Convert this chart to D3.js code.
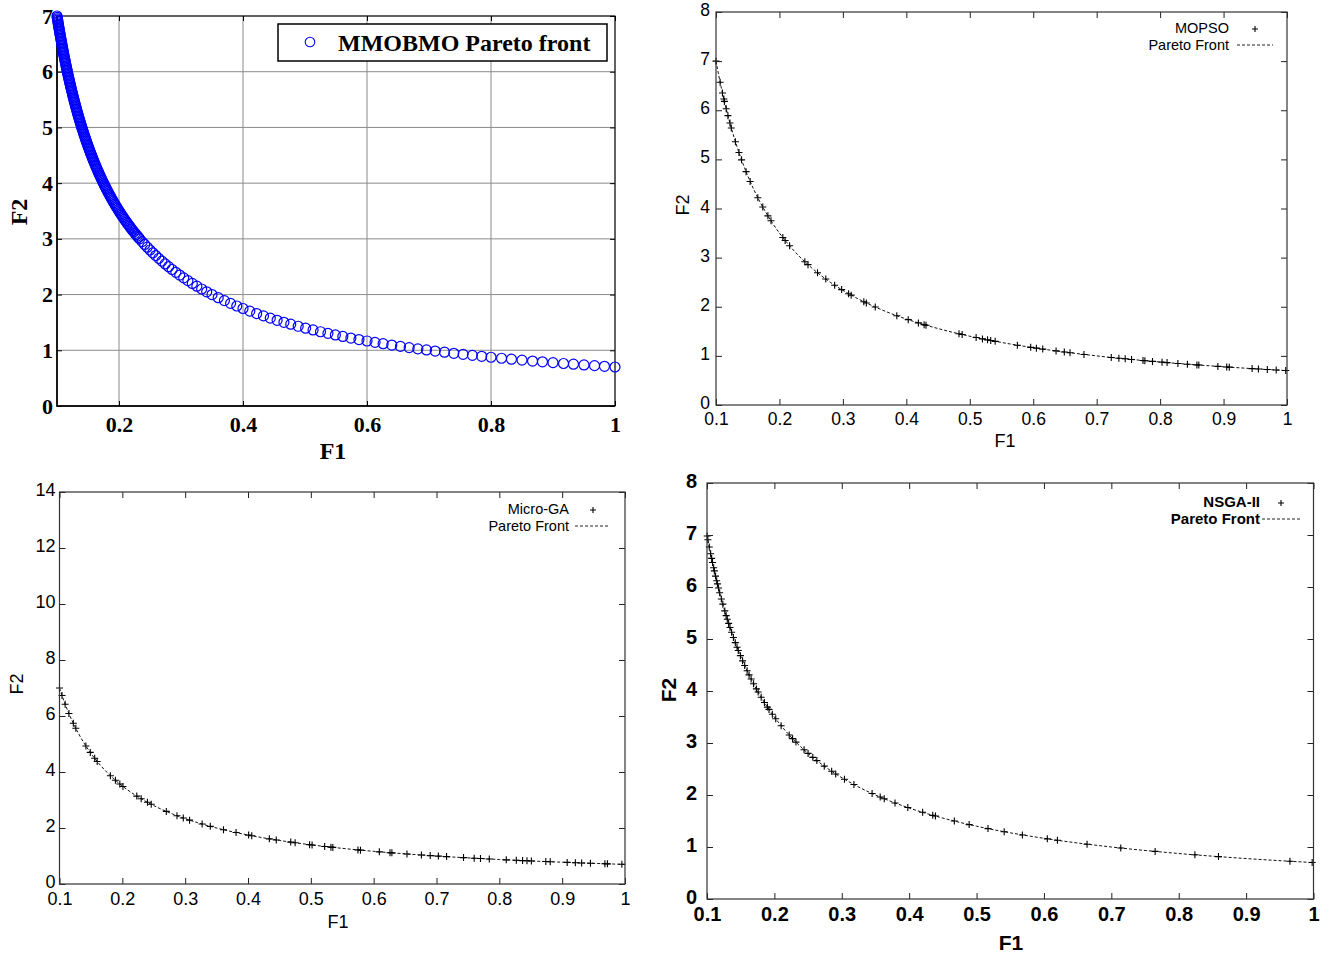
<!DOCTYPE html>
<html>
<head>
<meta charset="utf-8">
<script src="https://cdn.jsdelivr.net/npm/d3@7"></script>
<style>
  body { margin: 0; background: #fff; }
</style>
</head>
<body>
<div id="chart"></div>
<script>
// ---- data ----
var f1Ticks = [0.1, 0.2, 0.3, 0.4, 0.5, 0.6, 0.7, 0.8, 0.9, 1];
var matlabF1Ticks = [0.2, 0.4, 0.6, 0.8, 1];
var matlabF2Ticks = [0, 1, 2, 3, 4, 5, 6, 7];
var f2Ticks8 = [0, 1, 2, 3, 4, 5, 6, 7, 8];
var f2Ticks14 = [0, 2, 4, 6, 8, 10, 12, 14];

// true Pareto front (dashed line in the three gnuplot plots)
var paretoF1 = [0.1, 0.104, 0.108, 0.112, 0.116, 0.12, 0.125, 0.13, 0.14, 0.15, 0.16, 0.175, 0.19, 0.2, 0.22, 0.25, 0.28, 0.32, 0.36, 0.4, 0.45, 0.5, 0.55, 0.6, 0.7, 0.8, 0.9, 1.0];
var paretoF2 = [7.0, 6.731, 6.481, 6.25, 6.034, 5.833, 5.6, 5.385, 5.0, 4.667, 4.375, 4.0, 3.684, 3.5, 3.182, 2.8, 2.5, 2.188, 1.944, 1.75, 1.556, 1.4, 1.273, 1.167, 1.0, 0.875, 0.778, 0.7];

// MMOBMO solutions [F1, F2]
var mmobmo = [
  [0.1, 7.0], [0.10072, 6.95], [0.10145, 6.9], [0.10219, 6.85], [0.10294, 6.8], [0.1037, 6.75], [0.10448, 6.7], [0.10526, 6.65],
  [0.10606, 6.6], [0.10687, 6.55], [0.10769, 6.5], [0.10853, 6.45], [0.10938, 6.4], [0.11024, 6.35], [0.11111, 6.3], [0.112, 6.25],
  [0.1129, 6.2], [0.11382, 6.15], [0.11475, 6.1], [0.1157, 6.05], [0.11667, 6.0], [0.11765, 5.95], [0.11864, 5.9], [0.11966, 5.85],
  [0.12069, 5.8], [0.12174, 5.75], [0.12281, 5.7], [0.12389, 5.65], [0.125, 5.6], [0.12613, 5.55], [0.12727, 5.5], [0.12844, 5.45],
  [0.12963, 5.4], [0.13084, 5.35], [0.13208, 5.3], [0.13333, 5.25], [0.13462, 5.2], [0.13592, 5.15], [0.13725, 5.1], [0.13861, 5.05],
  [0.14, 5.0], [0.14141, 4.95], [0.14286, 4.9], [0.14433, 4.85], [0.14583, 4.8], [0.14737, 4.75], [0.14894, 4.7], [0.15054, 4.65],
  [0.15217, 4.6], [0.15385, 4.55], [0.15556, 4.5], [0.1573, 4.45], [0.15909, 4.4], [0.16092, 4.35], [0.16279, 4.3], [0.16471, 4.25],
  [0.16667, 4.2], [0.16867, 4.15], [0.17073, 4.1], [0.17284, 4.05], [0.175, 4.0], [0.17722, 3.95], [0.17949, 3.9], [0.18182, 3.85],
  [0.18421, 3.8], [0.18667, 3.75], [0.18919, 3.7], [0.19178, 3.65], [0.19444, 3.6], [0.19718, 3.55], [0.2, 3.5], [0.2029, 3.45],
  [0.20588, 3.4], [0.20896, 3.35], [0.21212, 3.3], [0.21538, 3.25], [0.21875, 3.2], [0.22222, 3.15], [0.22581, 3.1], [0.22951, 3.05],
  [0.23333, 3.0], [0.23729, 2.95], [0.24138, 2.9], [0.24561, 2.85], [0.25, 2.8], [0.25455, 2.75], [0.25926, 2.7], [0.26415, 2.65],
  [0.26923, 2.6], [0.27451, 2.55], [0.28, 2.5], [0.28571, 2.45], [0.29167, 2.4], [0.29787, 2.35], [0.30435, 2.3], [0.31111, 2.25],
  [0.31818, 2.2], [0.32558, 2.15], [0.33333, 2.1], [0.34146, 2.05], [0.35, 2.0], [0.36, 1.944], [0.37, 1.892], [0.38, 1.842],
  [0.39, 1.795], [0.40, 1.75], [0.411, 1.703], [0.422, 1.659], [0.433, 1.617], [0.444, 1.577], [0.455, 1.538], [0.466, 1.502],
  [0.477, 1.468], [0.489, 1.431], [0.501, 1.397], [0.513, 1.365], [0.525, 1.333], [0.537, 1.304], [0.549, 1.275], [0.561, 1.248],
  [0.574, 1.22], [0.587, 1.193], [0.6, 1.167], [0.613, 1.142], [0.626, 1.118], [0.64, 1.094], [0.654, 1.07], [0.668, 1.048],
  [0.682, 1.026], [0.696, 1.006], [0.71, 0.986], [0.725, 0.966], [0.74, 0.946], [0.755, 0.927], [0.77, 0.909], [0.785, 0.892],
  [0.8, 0.875], [0.817, 0.857], [0.833, 0.84], [0.85, 0.824], [0.867, 0.807], [0.883, 0.793], [0.9, 0.778], [0.917, 0.763],
  [0.933, 0.75], [0.95, 0.737], [0.967, 0.724], [0.983, 0.712], [1.0, 0.7]
];

// the steep part of the MMOBMO front is packed much tighter
var mmobmoDense = [
  [0.10036, 6.975], [0.10108, 6.925], [0.10182, 6.875], [0.10256, 6.825], [0.10332, 6.775], [0.10409, 6.725], [0.10487, 6.675], [0.10566, 6.625],
  [0.10646, 6.575], [0.10728, 6.525], [0.10811, 6.475], [0.10895, 6.425], [0.1098, 6.375], [0.11067, 6.325], [0.11155, 6.275], [0.11245, 6.225],
  [0.11336, 6.175], [0.11429, 6.125], [0.11523, 6.075], [0.11618, 6.025], [0.11715, 5.975], [0.11814, 5.925], [0.11915, 5.875], [0.12017, 5.825],
  [0.12121, 5.775], [0.12227, 5.725], [0.12335, 5.675], [0.12444, 5.625], [0.12556, 5.575], [0.1267, 5.525], [0.12785, 5.475], [0.12903, 5.425],
  [0.13023, 5.375], [0.13146, 5.325], [0.1327, 5.275], [0.13397, 5.225], [0.13527, 5.175], [0.13659, 5.125], [0.13793, 5.075], [0.1393, 5.025],
  [0.1407, 4.975], [0.14213, 4.925], [0.14359, 4.875], [0.14508, 4.825], [0.1466, 4.775], [0.14815, 4.725], [0.14973, 4.675], [0.15135, 4.625],
  [0.15301, 4.575], [0.1547, 4.525], [0.15642, 4.475], [0.15819, 4.425], [0.16, 4.375], [0.16185, 4.325], [0.16374, 4.275], [0.16568, 4.225],
  [0.16766, 4.175], [0.1697, 4.125], [0.17178, 4.075], [0.17391, 4.025], [0.1761, 3.975], [0.17834, 3.925], [0.18065, 3.875], [0.18301, 3.825],
  [0.18543, 3.775], [0.18792, 3.725], [0.19048, 3.675], [0.1931, 3.625], [0.1958, 3.575], [0.19858, 3.525], [0.20144, 3.475], [0.20438, 3.425],
  [0.20741, 3.375], [0.21053, 3.325], [0.21374, 3.275], [0.21705, 3.225], [0.22047, 3.175], [0.224, 3.125], [0.22764, 3.075], [0.2314, 3.025]
];

// MOPSO solutions [F1, F2]
var mopso = [
  [0.1, 7.0], [0.1065, 6.57], [0.1102, 6.35], [0.1124, 6.23], [0.1133, 6.18], [0.1161, 6.03], [0.1188, 5.89], [0.122, 5.74],
  [0.1241, 5.64], [0.1306, 5.36], [0.1362, 5.14], [0.1403, 4.99], [0.1474, 4.75], [0.1538, 4.55], [0.1659, 4.22], [0.1737, 4.03],
  [0.1818, 3.85], [0.1867, 3.75], [0.2053, 3.41], [0.209, 3.349], [0.216, 3.241], [0.24, 2.917], [0.245, 2.857], [0.26, 2.692],
  [0.273, 2.564], [0.287, 2.439], [0.298, 2.349], [0.309, 2.265], [0.313, 2.236], [0.333, 2.102], [0.337, 2.077], [0.351, 1.994],
  [0.385, 1.818], [0.403, 1.737], [0.419, 1.671], [0.428, 1.636], [0.431, 1.624], [0.483, 1.449], [0.488, 1.434], [0.51, 1.373],
  [0.52, 1.346], [0.528, 1.326], [0.533, 1.313], [0.54, 1.296], [0.575, 1.217], [0.596, 1.174], [0.605, 1.157], [0.615, 1.138],
  [0.636, 1.101], [0.649, 1.079], [0.658, 1.064], [0.68, 1.029], [0.723, 0.968], [0.735, 0.952], [0.745, 0.94], [0.755, 0.927],
  [0.773, 0.906], [0.776, 0.902], [0.788, 0.888], [0.803, 0.872], [0.811, 0.863], [0.828, 0.845], [0.843, 0.83], [0.858, 0.816],
  [0.861, 0.813], [0.891, 0.786], [0.905, 0.773], [0.909, 0.77], [0.945, 0.741], [0.955, 0.733], [0.969, 0.722], [0.983, 0.712],
  [0.998, 0.701]
];

// Micro-GA solutions [F1, F2]
var microGA = [
  [0.1, 7.0], [0.104, 6.73], [0.109, 6.42], [0.115, 6.09], [0.122, 5.74], [0.126, 5.56], [0.142, 4.93], [0.149, 4.7],
  [0.156, 4.49], [0.16, 4.375], [0.181, 3.867], [0.189, 3.704], [0.196, 3.571], [0.201, 3.483], [0.223, 3.139], [0.23, 3.043],
  [0.24, 2.917], [0.246, 2.846], [0.27, 2.593], [0.287, 2.439], [0.297, 2.357], [0.307, 2.28], [0.327, 2.141], [0.34, 2.059],
  [0.361, 1.939], [0.381, 1.837], [0.401, 1.746], [0.406, 1.724], [0.434, 1.613], [0.445, 1.573], [0.468, 1.496], [0.475, 1.474],
  [0.498, 1.406], [0.502, 1.394], [0.522, 1.341], [0.532, 1.316], [0.535, 1.308], [0.575, 1.217], [0.579, 1.209], [0.609, 1.149],
  [0.626, 1.118], [0.629, 1.113], [0.653, 1.072], [0.676, 1.036], [0.69, 1.014], [0.703, 0.996], [0.716, 0.978], [0.743, 0.942],
  [0.76, 0.921], [0.77, 0.909], [0.784, 0.893], [0.811, 0.863], [0.827, 0.846], [0.837, 0.836], [0.844, 0.829], [0.851, 0.823],
  [0.874, 0.801], [0.881, 0.795], [0.908, 0.771], [0.921, 0.76], [0.931, 0.752], [0.945, 0.741], [0.968, 0.723], [0.972, 0.72],
  [0.995, 0.704]
];

// NSGA-II solutions [F1, F2]
var nsga2 = [
  [0.1003, 6.98], [0.1013, 6.91], [0.1034, 6.77], [0.1054, 6.64], [0.1069, 6.55], [0.1082, 6.47], [0.1099, 6.37], [0.1109, 6.31],
  [0.1127, 6.21], [0.1144, 6.12], [0.1155, 6.06], [0.1171, 5.98], [0.1188, 5.89], [0.1213, 5.77], [0.1235, 5.67], [0.1264, 5.54],
  [0.1284, 5.45], [0.1301, 5.38], [0.1321, 5.3], [0.1341, 5.22], [0.1365, 5.13], [0.1392, 5.03], [0.142, 4.93], [0.1446, 4.84],
  [0.1464, 4.78], [0.1496, 4.68], [0.1528, 4.58], [0.1559, 4.49], [0.1595, 4.39], [0.1624, 4.31], [0.1655, 4.23], [0.1691, 4.14],
  [0.1733, 4.04], [0.1759, 3.98], [0.1804, 3.88], [0.1852, 3.78], [0.1897, 3.69], [0.192, 3.646], [0.197, 3.553], [0.202, 3.465],
  [0.21, 3.333], [0.222, 3.153], [0.227, 3.084], [0.232, 3.017], [0.244, 2.869], [0.25, 2.8], [0.257, 2.724], [0.263, 2.662],
  [0.274, 2.555], [0.285, 2.456], [0.291, 2.405], [0.304, 2.303], [0.318, 2.201], [0.345, 2.029], [0.357, 1.961], [0.363, 1.928],
  [0.379, 1.847], [0.398, 1.759], [0.42, 1.667], [0.435, 1.609], [0.439, 1.595], [0.467, 1.499], [0.489, 1.431], [0.517, 1.354],
  [0.541, 1.294], [0.568, 1.232], [0.605, 1.157], [0.62, 1.129], [0.664, 1.054], [0.714, 0.98], [0.765, 0.915], [0.824, 0.85],
  [0.859, 0.815], [0.965, 0.725], [0.998, 0.701]
];

// ---- drawing ----
var width = 1321;
var height = 958;

var svg = d3.select('#chart')
    .append('svg')
        .attr('width', width)
        .attr('height', height)
        .attr('xmlns', 'http://www.w3.org/2000/svg')
        .style('background', '#fff');

var serif = '"Liberation Serif", "Times New Roman", serif';
var sans = '"Liberation Sans", Arial, Helvetica, sans-serif';
var plusPath = 'M-3.5,0H3.5M0,-3.5V3.5';
var fmt = d3.format('~g');

// ===== MMOBMO (MATLAB style) =====
(function(){
    var left = 57, right = 615, top = 16, bottom = 406;
    var x = d3.scaleLinear().domain([0.1, 1]).range([left, right]);
    var y = d3.scaleLinear().domain([0, 7]).range([bottom, top]);
    var g = svg.append('g').attr('class', 'mmobmo');

    // grid
    g.append('g')
        .attr('class', 'grid')
        .selectAll('line.gx')
        .data(matlabF1Ticks)
        .enter()
        .append('line')
        .attr('x1', function(d){ return x(d); })
        .attr('x2', function(d){ return x(d); })
        .attr('y1', top)
        .attr('y2', bottom)
        .attr('stroke', '#8a8a8a')
        .attr('stroke-width', 1);
    g.select('.grid')
        .selectAll('line.gy')
        .data(matlabF2Ticks)
        .enter()
        .append('line')
        .attr('x1', left)
        .attr('x2', right)
        .attr('y1', function(d){ return y(d); })
        .attr('y2', function(d){ return y(d); })
        .attr('stroke', '#8a8a8a')
        .attr('stroke-width', 1);

    g.append('g')
        .attr('transform', 'translate(0,' + bottom + ')')
        .call(d3.axisBottom(x).tickValues(matlabF1Ticks).tickFormat(fmt).tickSize(-5).tickPadding(10));
    g.append('g')
        .attr('transform', 'translate(' + left + ',0)')
        .call(d3.axisLeft(y).tickValues(matlabF2Ticks).tickFormat(fmt).tickSize(-5).tickPadding(4));
    g.append('g')
        .attr('transform', 'translate(0,' + top + ')')
        .call(d3.axisTop(x).tickValues(matlabF1Ticks).tickFormat('').tickSize(-5));
    g.append('g')
        .attr('transform', 'translate(' + right + ',0)')
        .call(d3.axisRight(y).tickValues(matlabF2Ticks).tickFormat('').tickSize(-5));

    g.selectAll('.domain').remove();
    g.selectAll('.tick line').attr('stroke', '#000');
    g.selectAll('.tick text')
        .attr('font-family', serif)
        .attr('font-weight', 'bold')
        .attr('font-size', '22px')
        .attr('fill', '#000');

    g.append('rect')
        .attr('x', left).attr('y', top)
        .attr('width', right - left).attr('height', bottom - top)
        .attr('fill', 'none').attr('stroke', '#000').attr('stroke-width', 1);
    g.append('path')
        .attr('d', 'M' + left + ',' + top + 'V' + bottom + 'H' + right)
        .attr('fill', 'none').attr('stroke', '#000').attr('stroke-width', 1.6);

    g.selectAll('circle.pt')
        .data(mmobmo.concat(mmobmoDense))
        .enter()
        .append('circle')
        .attr('class', 'pt')
        .attr('cx', function(d){ return x(d[0]); })
        .attr('cy', function(d){ return y(d[1]); })
        .attr('r', 5)
        .attr('fill', 'none')
        .attr('stroke', '#0000ff')
        .attr('stroke-width', 1.2);

    // legend
    g.append('rect')
        .attr('x', 278).attr('y', 24).attr('width', 329).attr('height', 37)
        .attr('fill', '#fff').attr('stroke', '#000').attr('stroke-width', 1.5);
    g.append('circle')
        .attr('cx', 310).attr('cy', 42).attr('r', 4.8)
        .attr('fill', 'none').attr('stroke', '#0000ff').attr('stroke-width', 1.1);
    g.append('text')
        .attr('x', 338).attr('y', 51)
        .attr('font-family', serif).attr('font-weight', 'bold').attr('font-size', '24px')
        .text('MMOBMO Pareto front');

    g.append('text')
        .attr('x', (left + right) / 2 - 3).attr('y', 459)
        .attr('text-anchor', 'middle')
        .attr('font-family', serif).attr('font-weight', 'bold').attr('font-size', '24px')
        .text('F1');
    g.append('text')
        .attr('transform', 'translate(27,212) rotate(-90)')
        .attr('text-anchor', 'middle')
        .attr('font-family', serif).attr('font-weight', 'bold').attr('font-size', '24px')
        .text('F2');
})();

// ===== gnuplot style panels =====
function gnuPanel(o) {
    var x = d3.scaleLinear().domain([0.1, 1]).range([o.left, o.right]);
    var y = d3.scaleLinear().domain([0, o.yMax]).range([o.bottom, o.top]);
    var g = svg.append('g').attr('class', o.cls);

    var line = d3.line()
        .x(function(d){ return x(d[0]); })
        .y(function(d){ return y(d[1]); })
        .curve(d3.curveMonotoneX);

    g.append('path')
        .datum(d3.zip(paretoF1, paretoF2))
        .attr('d', line)
        .attr('fill', 'none')
        .attr('stroke', '#111')
        .attr('stroke-width', 1)
        .attr('stroke-dasharray', '3,2');

    g.selectAll('path.plus')
        .data(o.points)
        .enter()
        .append('path')
        .attr('class', 'plus')
        .attr('transform', function(d){ return 'translate(' + x(d[0]) + ',' + y(d[1]) + ')'; })
        .attr('d', plusPath)
        .attr('stroke', '#000')
        .attr('stroke-width', 1.1);

    g.append('g')
        .attr('transform', 'translate(0,' + o.bottom + ')')
        .call(d3.axisBottom(x).tickValues(f1Ticks).tickFormat(fmt).tickSize(-6).tickPadding(o.padX));
    g.append('g')
        .attr('class', 'yax')
        .attr('transform', 'translate(' + o.left + ',0)')
        .call(d3.axisLeft(y).tickValues(o.yTicks).tickFormat(fmt).tickSize(-6).tickPadding(o.padY));
    g.append('g')
        .attr('transform', 'translate(0,' + o.top + ')')
        .call(d3.axisTop(x).tickValues(f1Ticks).tickFormat('').tickSize(-6));
    g.append('g')
        .attr('transform', 'translate(' + o.right + ',0)')
        .call(d3.axisRight(y).tickValues(o.yTicks).tickFormat('').tickSize(-6));

    g.selectAll('.domain').remove();
    g.selectAll('.tick line').attr('stroke', '#222');
    g.selectAll('.tick text')
        .attr('font-family', sans)
        .attr('font-size', o.tickFont)
        .attr('font-weight', o.weight)
        .attr('fill', '#000');
    // gnuplot puts the y labels a touch above their ticks
    g.selectAll('.yax .tick text').attr('dy', '0.2em');

    g.append('rect')
        .attr('x', o.left).attr('y', o.top)
        .attr('width', o.right - o.left).attr('height', o.bottom - o.top)
        .attr('fill', 'none').attr('stroke', '#333').attr('stroke-width', 1.2);

    // legend
    var lg = g.append('g')
        .attr('font-family', sans)
        .attr('font-size', o.legFont)
        .attr('font-weight', o.weight);
    lg.append('text')
        .attr('x', o.legX).attr('y', o.legY + 5)
        .attr('text-anchor', 'end')
        .text(o.name);
    lg.append('path')
        .attr('transform', 'translate(' + o.plusX + ',' + (o.legY + 1) + ')')
        .attr('d', 'M-3,0H3M0,-3V3')
        .attr('stroke', '#000').attr('stroke-width', 1.1);
    lg.append('text')
        .attr('x', o.legX).attr('y', o.legY + 22)
        .attr('text-anchor', 'end')
        .text('Pareto Front');
    lg.append('line')
        .attr('x1', o.dashX1).attr('x2', o.dashX2)
        .attr('y1', o.legY + 17).attr('y2', o.legY + 17)
        .attr('stroke', '#222').attr('stroke-width', 1)
        .attr('stroke-dasharray', '3,2');

    g.append('text')
        .attr('x', o.f1X).attr('y', o.f1Y)
        .attr('text-anchor', 'middle')
        .attr('font-family', sans).attr('font-size', o.labFont).attr('font-weight', o.weight)
        .text('F1');
    g.append('text')
        .attr('transform', 'translate(' + o.f2X + ',' + o.f2Y + ') rotate(-90)')
        .attr('text-anchor', 'middle')
        .attr('font-family', sans).attr('font-size', o.labFont).attr('font-weight', o.weight)
        .text('F2');
}

gnuPanel({
    cls: 'mopso', name: 'MOPSO', points: mopso,
    left: 716, right: 1287, top: 12, bottom: 405,
    yMax: 8, yTicks: f2Ticks8,
    tickFont: '17.5px', legFont: '14.5px', labFont: '18px', weight: 'normal',
    padX: 8, padY: 6,
    legX: 1229, legY: 28, plusX: 1255, dashX1: 1237, dashX2: 1273,
    f1X: 1005, f1Y: 447, f2X: 689, f2Y: 205
});

gnuPanel({
    cls: 'microga', name: 'Micro-GA', points: microGA,
    left: 59.5, right: 625, top: 492, bottom: 884,
    yMax: 14, yTicks: f2Ticks14,
    tickFont: '18px', legFont: '14.5px', labFont: '18px', weight: 'normal',
    padX: 8, padY: 4,
    legX: 569, legY: 509, plusX: 593, dashX1: 575, dashX2: 610,
    f1X: 338, f1Y: 928, f2X: 23, f2Y: 684
});

gnuPanel({
    cls: 'nsga2', name: 'NSGA-II', points: nsga2,
    left: 707, right: 1313.5, top: 483, bottom: 899,
    yMax: 8, yTicks: f2Ticks8,
    tickFont: '20px', legFont: '15px', labFont: '21px', weight: 'bold',
    padX: 8, padY: 10,
    legX: 1260, legY: 502, plusX: 1281, dashX1: 1262, dashX2: 1300,
    f1X: 1011, f1Y: 950, f2X: 676, f2Y: 690
});
</script>
</body>
</html>
